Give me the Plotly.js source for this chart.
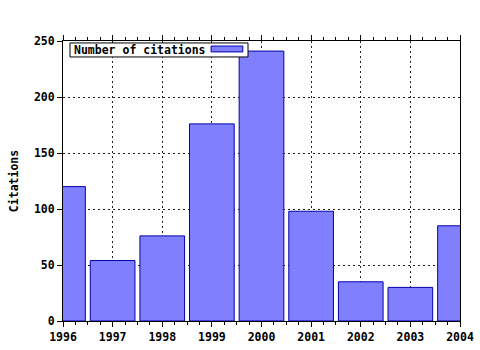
<!DOCTYPE html>
<html>
<head>
<meta charset="utf-8">
<script src="https://cdn.plot.ly/plotly-3.0.1.min.js"></script>
<style>html,body{margin:0;padding:0;background:#fff;}#chart{width:480px;height:350px;}</style>
</head>
<body>
<div id="chart"></div>
<script>
const years = [1996, 1997, 1998, 1999, 2000, 2001, 2002, 2003, 2004];
const citations = [120, 54, 76, 176, 241, 98, 35, 30, 85];
const seriesName = "Number of citations";
const yTicks = [0, 50, 100, 150, 200, 250];

const bfont = {family: "DejaVu Sans Mono, monospace", size: 11.5, color: "#000", weight: "bold"};

const trace = {
  type: "bar",
  x: years,
  y: citations,
  width: 0.9,
  name: seriesName,
  marker: {color: "#8080ff", line: {color: "#0000aa", width: 1}},
  showlegend: false,
  hoverinfo: "x+y"
};

const layout = {
  width: 480, height: 350,
  margin: {l: 63, r: 20, t: 41, b: 29},
  paper_bgcolor: "#fff", plot_bgcolor: "#fff",
  font: bfont,
  bargap: 0,
  xaxis: {
    range: [1996, 2004], tickmode: "array", tickvals: years, ticktext: years.map(String),
    ticks: "outside", ticklen: 5, tickcolor: "#000", tickwidth: 1,
    showline: true, linecolor: "#000", linewidth: 1, mirror: "ticks",
    showgrid: true, gridcolor: "#222", griddash: "2px,3px", gridwidth: 1,
    zeroline: false,
    tickfont: bfont,
    minor: {dtick: 0.25, ticks: "outside", ticklen: 3, tickcolor: "#000", showgrid: false}
  },
  yaxis: {
    range: [0, 250], tickmode: "array", tickvals: yTicks,
    ticks: "outside", ticklen: 5, tickcolor: "#000",
    showline: true, linecolor: "#000", linewidth: 1, mirror: true,
    showgrid: true, gridcolor: "#222", griddash: "2px,3px", gridwidth: 1,
    zeroline: false,
    tickfont: bfont,
    title: {text: "Citations", standoff: 12, font: bfont}
  },
  annotations: [{
    xref: "paper", yref: "paper", x: 0.022, y: 0.968, xanchor: "left", yanchor: "middle",
    text: seriesName, showarrow: false, align: "left",
    font: bfont
  }],
  shapes: [
    {
      type: "rect", xref: "paper", yref: "paper", layer: "above",
      x0: 0.0176, x1: 0.466, y0: 0.943, y1: 0.993,
      fillcolor: "#fff", line: {color: "#000", width: 1}
    },
    {
      type: "rect", xref: "paper", yref: "paper", layer: "above",
      x0: 0.373, x1: 0.453, y0: 0.961, y1: 0.982,
      fillcolor: "#8080ff", line: {color: "#0000aa", width: 1}
    }
  ]
};

Plotly.newPlot("chart", [trace], layout, {displayModeBar: false, staticPlot: true});
</script>
</body>
</html>
